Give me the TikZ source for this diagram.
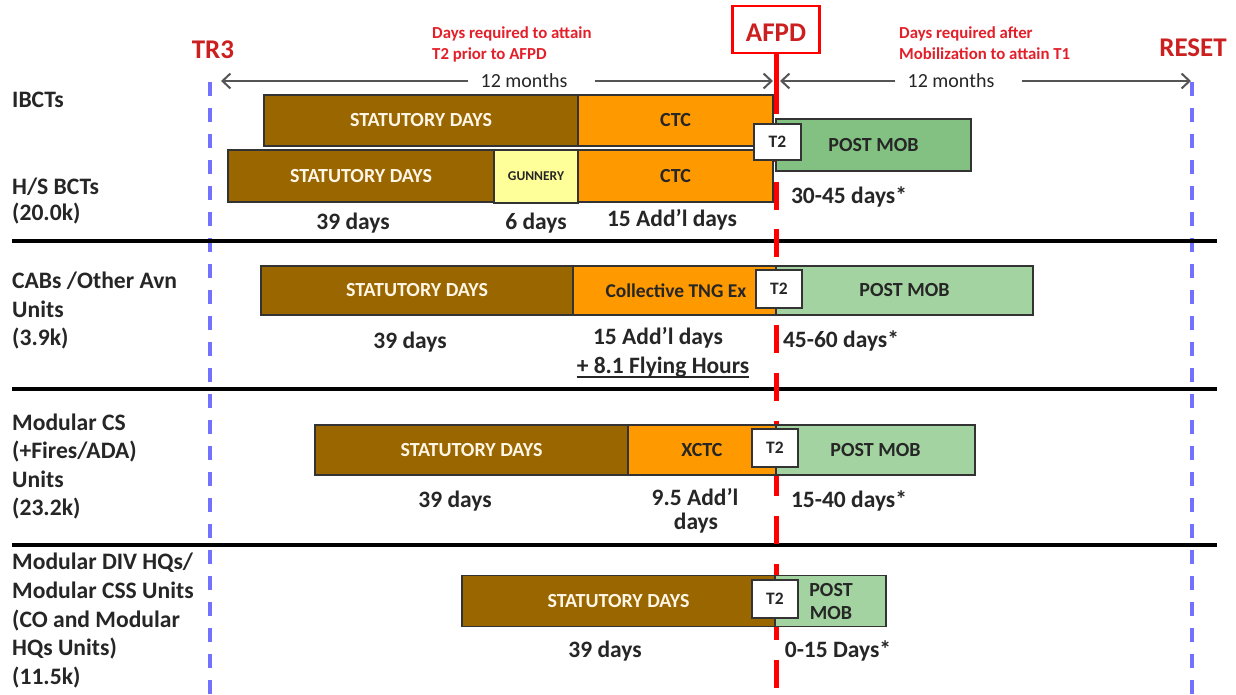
\documentclass[tikz,border=0pt]{standalone}
\usepackage{fontspec}
\setmainfont{Carlito}
\usetikzlibrary{arrows.meta}
\definecolor{brn}{HTML}{996600}
\definecolor{org}{HTML}{FF9900}
\definecolor{yel}{HTML}{FFFF99}
\definecolor{grnd}{HTML}{82C182}
\definecolor{grnl}{HTML}{A2D3A0}
\definecolor{cream}{HTML}{FFF6E6}
\definecolor{txt}{HTML}{262626}
\definecolor{bord}{HTML}{333333}
\definecolor{redtxt}{HTML}{E3202A}
\definecolor{redbig}{HTML}{CC1F1F}
\definecolor{redln}{HTML}{FF0000}
\definecolor{bluel}{HTML}{7272FF}
\definecolor{arrgray}{HTML}{555555}
\begin{document}
\begin{tikzpicture}[x=1pt,y=-1pt,
  bar/.style={draw=bord, line width=1.3pt, inner sep=0pt, font=\fontsize{20}{23}\selectfont\bfseries},
  stat/.style={bar, fill=brn, text=cream},
  ctc/.style={bar, fill=org, text=txt},
  gun/.style={bar, fill=yel, text=txt, font=\fontsize{13.5}{15}\selectfont\bfseries},
  pmd/.style={bar, fill=grnd, text=txt},
  pml/.style={bar, fill=grnl, text=txt},
  ttwo/.style={bar, fill=white, text=txt, font=\fontsize{17.5}{20}\selectfont\bfseries},
  lbl/.style={anchor=base, inner sep=0pt, font=\fontsize{23.5}{27}\selectfont\bfseries, text=txt},
  unit/.style={anchor=base west, inner sep=0pt, font=\fontsize{23.6}{28}\selectfont\bfseries, text=txt},
  note/.style={anchor=base west, inner sep=0pt, font=\fontsize{16.8}{19}\selectfont\bfseries, text=redtxt},
  big/.style={anchor=base, inner sep=0pt, font=\fontsize{27}{31}\selectfont\bfseries, text=redbig},
  months/.style={inner sep=0pt, font=\fontsize{20}{24}\selectfont, text=txt},
  arr/.style={draw=arrgray, line width=2pt, -{Straight Barb[length=8pt,width=15pt,line width=2pt]}},
  sepl/.style={draw=black, line width=4pt},
  blued/.style={draw=bluel, line width=3.5pt, dash pattern=on 14pt off 12pt},
  redl/.style={draw=redln, line width=5pt}
]
\useasboundingbox[fill=white] (0,0) rectangle (1236,694);

% ---- vertical blue dashed lines
\coordinate (trtop) at (210,82);
\coordinate (trbot) at (210,694);
\coordinate (rstop) at (1192,82);
\coordinate (rsbot) at (1192,694);
\draw[blued] (trtop) -- (trbot);
\draw[blued] (rstop) -- (rsbot);

% ---- separators
\coordinate (s1l) at (12,241);  \coordinate (s1r) at (1217,241);
\coordinate (s2l) at (12,389);  \coordinate (s2r) at (1217,389);
\coordinate (s3l) at (12,545);  \coordinate (s3r) at (1217,545);
\draw[sepl] (s1l) -- (s1r);
\draw[sepl] (s2l) -- (s2r);
\draw[sepl] (s3l) -- (s3r);

% ---- top labels
\node[big] (tr3) at (213,58) {TR3};
\node[big] (reset) at (1193,56) {RESET};
\node[draw=redln, line width=2.5pt, fill=white, minimum width=87pt, minimum height=47pt,
      inner sep=0pt, text height=25pt, text depth=2pt,
      font=\fontsize{27}{31}\selectfont\bfseries, text=redbig] (afpd) at (776,29.5) {AFPD};
\node[note] (n1a) at (432,38) {Days required to attain};
\node[note] (n1b) at (432,59) {T2 prior to AFPD};
\node[note] (n2a) at (899,38) {Days required after};
\node[note] (n2b) at (899,59) {Mobilization to attain T1};

% ---- 12 months arrows
\coordinate (la) at (221,81);
\coordinate (ra) at (773,81);
\coordinate (lb) at (780,81);
\coordinate (rb) at (1191,81);
\node[months] (m1) at (524,81) {12 months};
\node[months] (m2) at (951,81) {12 months};
\draw[arr] ([xshift=-12pt]m1.west) -- (la);
\draw[arr] ([xshift=27pt]m1.east) -- (ra);
\draw[arr] ([xshift=-12pt]m2.west) -- (lb);
\draw[arr] ([xshift=27pt]m2.east) -- (rb);

% ---- AFPD red line
\coordinate (rtop) at (776,86);
\coordinate (rbot) at (776,694);
\draw[redl] (afpd.south) -- (rtop);
\draw[redl, dash pattern=on 28pt off 19.8pt] (rtop) -- (rbot);

% ---- Row 1 : IBCTs
\node[stat, minimum width=314pt, minimum height=51pt] (st1) at (421,120.5) {STATUTORY DAYS};
\node[ctc, minimum width=195pt, minimum height=51pt] (ct1) at (675.5,120.5) {CTC};
\node[pmd, minimum width=195pt, minimum height=52pt] (pm1) at (873.5,145) {POST MOB};
% ---- Row 2 : H/S BCTs
\node[stat, minimum width=266pt, minimum height=52pt] (st2) at (361,176) {STATUTORY DAYS};
\node[gun, minimum width=84pt, minimum height=53pt] (gu2) at (536,176.5) {GUNNERY};
\node[ctc, minimum width=195pt, minimum height=52pt] (ct2) at (675.5,176) {CTC};
\node[ttwo, minimum width=47pt, minimum height=36pt] (t21) at (777.5,142) {T2};

\node[unit] (u1) at (12,107) {IBCTs};
\node[unit] (u2a) at (12,194) {H/S BCTs};
\node[unit] (u2b) at (12,220) {(20.0k)};
\node[lbl] (d2a) at (353,229) {39 days};
\node[lbl] (d2b) at (536,229) {6 days};
\node[lbl] (d2c) at (672,226) {15 Add’l days};
\node[lbl] (d2d) at (849,203) {30-45 days*};

% ---- Row 3 : CABs
\node[stat, minimum width=312pt, minimum height=49pt] (st3) at (417,290.5) {STATUTORY DAYS};
\node[ctc, minimum width=203pt, minimum height=49pt] (ct3) at (674.5,290.5) {};
\node[bar, draw=none, text=txt, inner sep=0pt, font=\fontsize{19.5}{22}\selectfont\bfseries] (ct3t) at (676,290.5) {Collective TNG Ex};
\node[pml, minimum width=257pt, minimum height=49pt] (pm3) at (904.5,290.5) {POST MOB};
\node[ttwo, minimum width=46pt, minimum height=38pt] (t23) at (779,289) {T2};

\node[unit] (u3a) at (12,288) {CABs /Other Avn};
\node[unit] (u3b) at (12,317) {Units};
\node[unit] (u3c) at (12,345) {(3.9k)};
\node[lbl] (d3a) at (410,348) {39 days};
\node[lbl] (d3b) at (658,344) {15 Add’l days};
\node[lbl] (d3c) at (663,373) {+ 8.1 Flying Hours};
\draw[draw=txt, line width=1.5pt] ([yshift=-4pt]d3c.base west) -- ([yshift=-4pt]d3c.base east);
\node[lbl] (d3d) at (841,347) {45-60 days*};

% ---- Row 4 : Modular CS
\node[stat, minimum width=313pt, minimum height=50pt] (st4) at (471.5,450) {STATUTORY DAYS};
\node[ctc, minimum width=148pt, minimum height=50pt] (ct4) at (702,450) {XCTC};
\node[pml, minimum width=199pt, minimum height=50pt] (pm4) at (875.5,450) {POST MOB};
\node[ttwo, minimum width=46pt, minimum height=38pt] (t24) at (775,448) {T2};

\node[unit] (u4a) at (12,430) {Modular CS};
\node[unit] (u4b) at (12,458) {(+Fires/ADA)};
\node[unit] (u4c) at (12,487) {Units};
\node[unit] (u4d) at (12,515) {(23.2k)};
\node[lbl] (d4a) at (455,507) {39 days};
\node[lbl] (d4b) at (695,505) {9.5 Add’l};
\node[lbl] (d4c) at (696,529) {days};
\node[lbl] (d4d) at (849,507) {15-40 days*};

% ---- Row 5 : Modular DIV HQs
\node[stat, minimum width=313pt, minimum height=51pt] (st5) at (618.5,601) {STATUTORY DAYS};
\node[pml, minimum width=111pt, minimum height=51pt] (pm5) at (830.5,601) {};
\node[ttwo, minimum width=46pt, minimum height=38pt] (t25) at (775,599) {T2};
\node[bar, draw=none, text=txt, align=center, font=\fontsize{20}{23}\selectfont\bfseries] (pm5t) at (831,601) {POST\\MOB};

\node[unit] (u5a) at (12,569) {Modular DIV HQs/};
\node[unit] (u5b) at (12,598) {Modular CSS Units};
\node[unit] (u5c) at (12,627) {(CO and Modular};
\node[unit] (u5d) at (12,655) {HQs Units)};
\node[unit] (u5e) at (12,684) {(11.5k)};
\node[lbl] (d5a) at (605,657) {39 days};
\node[lbl] (d5b) at (838,657) {0-15 Days*};
\end{tikzpicture}
\end{document}
